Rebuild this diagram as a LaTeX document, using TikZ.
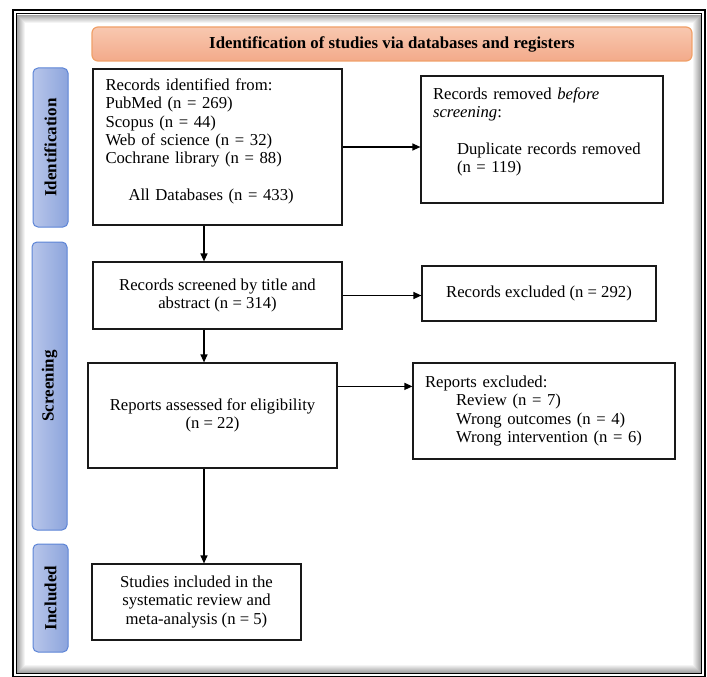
\documentclass[tikz,border=0pt]{standalone}
\usepackage{fontspec}
\setmainfont{Liberation Serif}
\usetikzlibrary{arrows.meta,positioning,calc}

\definecolor{hdrtop}{HTML}{F8C8B0}
\definecolor{hdrbot}{HTML}{F3AA8A}
\definecolor{hdrline}{HTML}{F0A068}
\definecolor{phaselight}{HTML}{B8C6EA}
\definecolor{phasedark}{HTML}{8CA4DC}
\definecolor{phaseline}{HTML}{5C84D6}

\begin{document}
\begin{tikzpicture}[x=1pt,y=-1pt,
    font=\fontsize{16.7}{18.4}\selectfont,
    box/.style={draw=black!90, line width=1.2pt, inner xsep=12pt, inner ysep=0pt},
    header/.style={draw=hdrline, line width=1.2pt, rounded corners=6pt,
      top color=hdrtop, bottom color=hdrbot, font=\fontsize{16.8}{18}\selectfont\bfseries},
    phase/.style={draw=phaseline, line width=1pt, rounded corners=5pt, rotate=90,
      left color=phaselight, right color=phasedark, minimum height=35pt,
      font=\fontsize{17}{18}\selectfont\bfseries},
    arr/.style={-{Triangle[length=8pt,width=7pt]}, line width=1.2pt}]

  \useasboundingbox (0,0) rectangle (707,677);

  % frame
  \draw[line width=2pt] (12.5,10) rectangle (705,677);
  \draw[line width=1pt] (16,13.5) rectangle (701.5,673.5);
  \foreach \i in {1,...,8}{
    \pgfmathsetmacro\op{0.045*(9-\i)}
    \draw[black, opacity=\op] (16.5+\i,14+\i) rectangle (701-\i,673-\i);
  }

  \node[header, minimum width=600pt, minimum height=34pt] (title) at (392,44)
    {Identification of studies via databases and registers};

  % phases
  \node[phase, minimum width=159pt] (phident) at (50.5,147.5) {Identification};
  \node[phase, minimum width=288pt] (phscreen) at (49.5,386) {Screening};
  \node[phase, minimum width=108pt] (phincl) at (50.5,598) {Included};

  % boxes
  \node[box, minimum width=249pt, minimum height=156pt, text width=224pt, align=left] (ident) at (217.5,147)
    {Records identified from:\\ PubMed (n = 269)\\ Scopus (n = 44)\\ Web of science (n = 32)\\ Cochrane library (n = 88)\\[18.4pt]
     \hspace*{23pt}All Databases (n = 433)\\[-3.6pt]\mbox{}};
  \node[box, minimum width=242pt, minimum height=127pt, text width=218pt, align=left] (removed) at (542,139.5)
    {Records removed \emph{before}\\ \emph{screening}:\\[18.4pt]
     \hspace*{24pt}Duplicate records removed\\ \hspace*{24pt}(n = 119)\\[0pt]\mbox{}};
  \node[box, minimum width=249pt, minimum height=67pt, align=center] (screened) at (217.5,295.5)
    {Records screened by title and\\ abstract (n = 314)};
  \node[box, minimum width=234pt, minimum height=55pt] (excl1) at (539,293.5)
    {Records excluded (n = 292)};
  \node[box, minimum width=249pt, minimum height=105pt, align=center] (assessed) at (212.5,415.5)
    {Reports assessed for eligibility\\ (n = 22)};
  \node[box, minimum width=262pt, minimum height=96pt, text width=238pt, align=left] (excl2) at (544,411)
    {Reports excluded:\\ \hspace*{31pt}Review (n = 7)\\ \hspace*{31pt}Wrong outcomes (n = 4)\\
     \hspace*{31pt}Wrong intervention (n = 6)};
  \node[box, minimum width=209pt, minimum height=76pt, align=center] (studies) at (196.5,602)
    {Studies included in the\\ systematic review and\\ meta-analysis (n = 5)};

  % arrows
  \coordinate (spine) at (204,0);
  \draw[arr] (spine |- ident.south) -- (spine |- screened.north);
  \draw[arr] (spine |- screened.south) -- (spine |- assessed.north);
  \draw[arr] (spine |- assessed.south) -- (spine |- studies.north);
  \draw[arr] (ident.east) -- (ident.east -| removed.west);
  \draw[arr] (screened.east) -- (screened.east -| excl1.west);
  \coordinate (fork) at ([yshift=-24pt]assessed.north east);
  \draw[arr] (fork) -- (fork -| excl2.west);
\end{tikzpicture}
\end{document}
